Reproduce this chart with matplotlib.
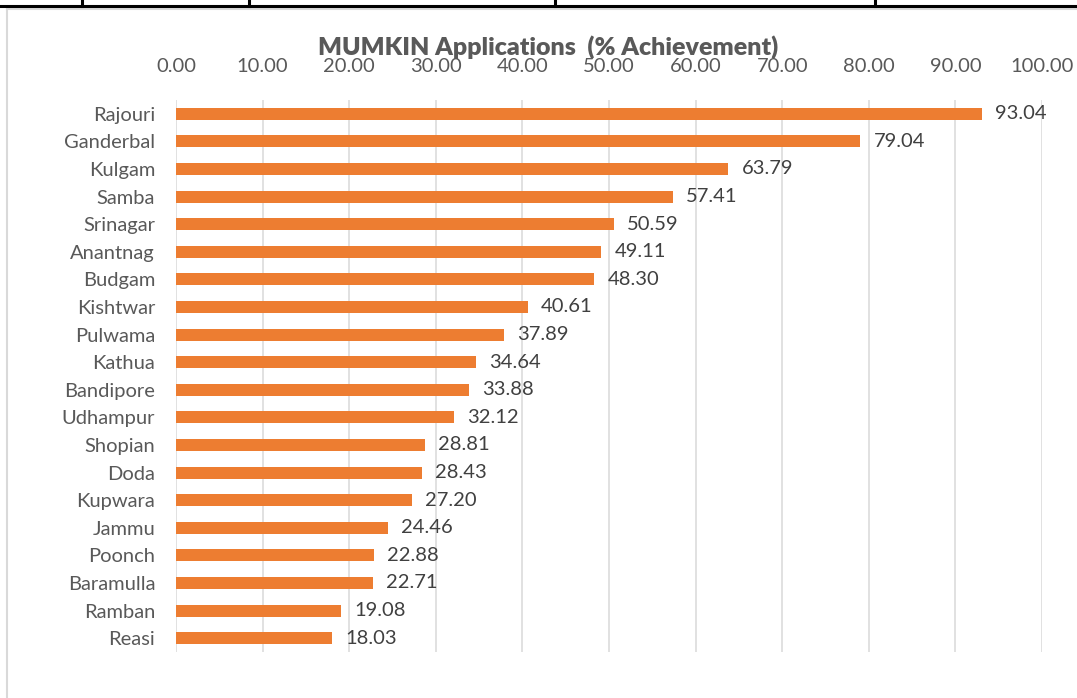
import matplotlib
matplotlib.use('Agg')
import matplotlib.pyplot as plt
from matplotlib.lines import Line2D

districts = ['Rajouri', 'Ganderbal', 'Kulgam', 'Samba', 'Srinagar', 'Anantnag', 'Budgam',
             'Kishtwar', 'Pulwama', 'Kathua', 'Bandipore', 'Udhampur', 'Shopian', 'Doda',
             'Kupwara', 'Jammu', 'Poonch', 'Baramulla', 'Ramban', 'Reasi']
achievement = [93.04, 79.04, 63.79, 57.41, 50.59, 49.11, 48.30, 40.61, 37.89, 34.64,
               33.88, 32.12, 28.81, 28.43, 27.20, 24.46, 22.88, 22.71, 19.08, 18.03]
x_ticks = [0, 10, 20, 30, 40, 50, 60, 70, 80, 90, 100]

plt.rcParams['font.family'] = ['Lato', 'DejaVu Sans']
text_gray = '#595959'
bar_orange = '#ED7D31'
grid_gray = '#D9D9D9'

fig = plt.figure(figsize=(10.77, 6.98), dpi=100)
ax = fig.add_axes([176 / 1077, 1 - 652 / 698, (1042 - 176) / 1077, 552 / 698])

ypos = list(range(len(districts)))
ax.barh(ypos, achievement, height=0.44, color=bar_orange, zorder=3)
for y, v in zip(ypos, achievement):
    ax.text(v + 1.5, y, f'{v:.2f}', va='center', ha='left', fontsize=14.5, color='#404040')

ax.set_ylim(len(districts) - 0.5, -0.5)
ax.set_xlim(0, 100)
ax.set_yticks(ypos)
ax.set_yticklabels(districts)
ax.set_xticks(x_ticks)
ax.set_xticklabels([f'{t:.2f}' for t in x_ticks])
ax.xaxis.tick_top()
ax.tick_params(axis='x', length=0, pad=18, labelsize=14.5, colors=text_gray)
ax.tick_params(axis='y', length=0, pad=15, labelsize=14.5, colors=text_gray)
ax.grid(axis='x', color=grid_gray, linewidth=1.1, zorder=0)
for s in ['top', 'bottom', 'left', 'right']:
    ax.spines[s].set_visible(False)

fig.text(548 / 1077, 1 - 47 / 698, 'MUMKIN Applications  (% Achievement)',
         ha='center', va='center', fontsize=18, fontweight='heavy', color=text_gray)

# chart frame and the table border above it
fig.add_artist(Line2D([7 / 1077, 1], [1 - 9 / 698, 1 - 9 / 698], color=grid_gray, lw=1.5))
fig.add_artist(Line2D([7 / 1077, 7 / 1077], [1 - 9 / 698, 0], color=grid_gray, lw=1.5))
fig.add_artist(Line2D([0, 1], [1 - 6 / 698, 1 - 6 / 698], color='black', lw=2.2))
for xp in [82, 249, 555, 875]:
    fig.add_artist(Line2D([xp / 1077, xp / 1077], [1, 1 - 6 / 698], color='black', lw=2.2))

plt.savefig('out.png', dpi=100)
